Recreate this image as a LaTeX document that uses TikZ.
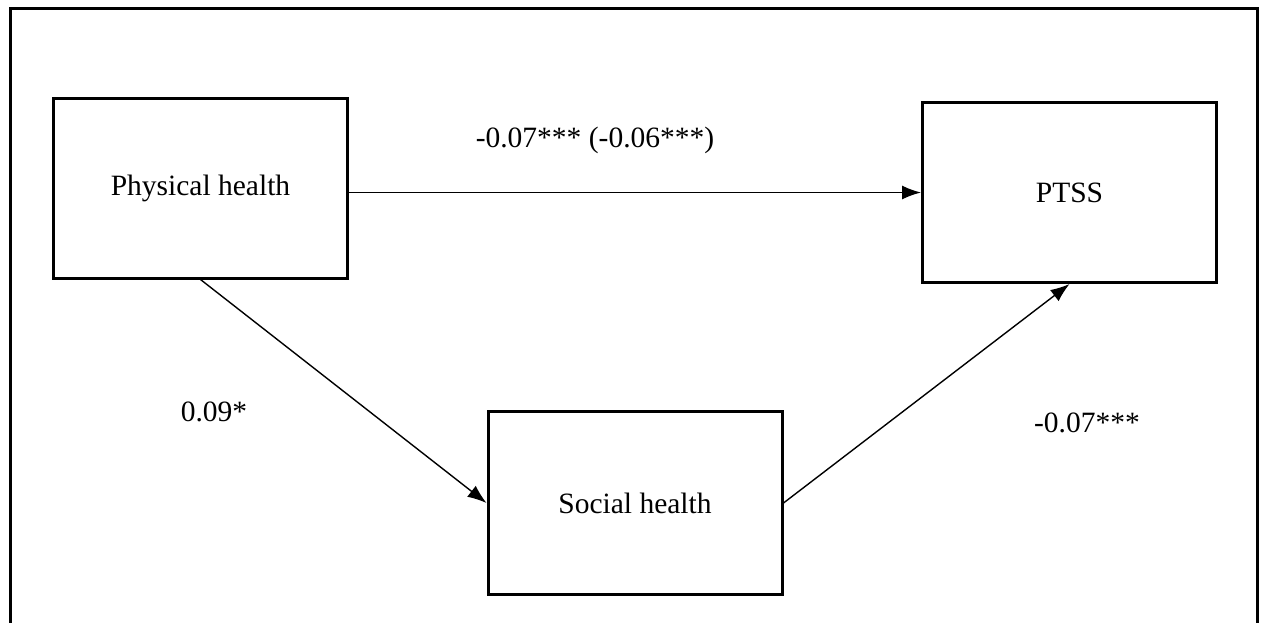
\documentclass[tikz,border=0pt]{standalone}
\usepackage{fontspec}
\setmainfont{Liberation Serif}
\usetikzlibrary{arrows.meta}
\begin{document}
\begin{tikzpicture}[x=1pt,y=-1pt,
  box/.style={draw, line width=3pt, minimum width=294pt, minimum height=180pt, inner sep=0pt,
    font=\fontsize{29.5}{35}\selectfont},
  lbl/.style={font=\fontsize{29.5}{35}\selectfont, inner sep=0pt},
  conn/.style={line width=1.4pt, -{Latex[length=19pt,width=14pt]}}]
\useasboundingbox (0,0) rectangle (1262,622);
\fill[white] (0,0) rectangle (1262,622);
\draw[line width=3pt] (10,624) -- (10,8) -- (1257,8) -- (1257,624);
\node[box] (phys) at (200.5,188) {Physical health};
\node[box] (ptss) at (1069.5,192.5) {PTSS};
\node[box, minimum height=183pt] (soc) at (635,503) {Social health};
\node[lbl] (l1) at (595,140) {-0.07*** (-0.06***)};
\node[lbl] (l2) at (214,412) {0.09*};
\node[lbl] (l3) at (1087,423) {-0.07***};
\draw[conn] (phys.east |- ptss.west) -- (ptss.west);
\draw[conn] (phys.south) -- (soc.west);
\draw[conn] (soc.east) -- (ptss.south);
\end{tikzpicture}
\end{document}
